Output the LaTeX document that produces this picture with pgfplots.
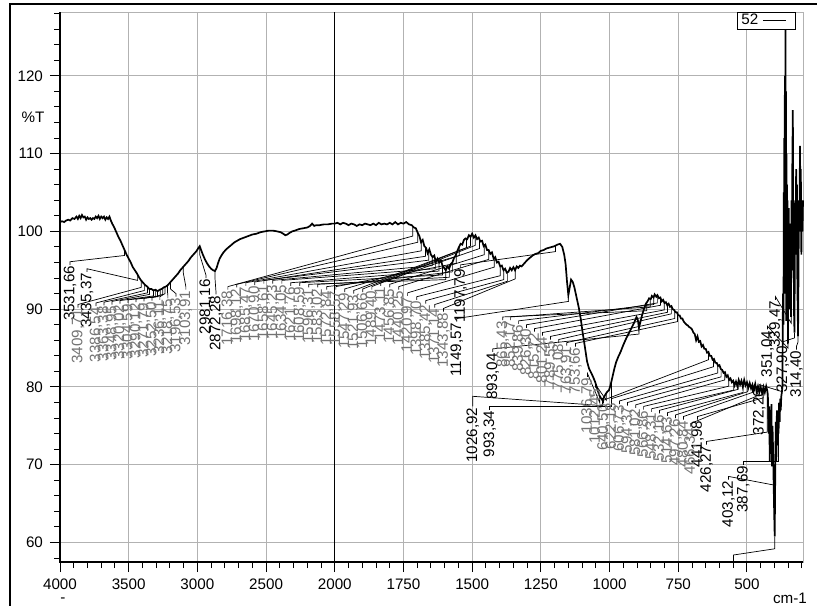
\documentclass[border=0pt]{standalone}
\usepackage{fontspec}
\setmainfont{Liberation Sans}
\usepackage{pgfplots}
\pgfplotsset{compat=1.18}
% leader + rotated peak label: lx, top, L, pk, L2, pT, text
\newcommand\pkl[7]{%
  \draw[line width=0.35pt] (axis cs:#1,#2) -- (axis cs:#1,#3) -- (axis cs:#4,#5) -- (axis cs:#4,#6);
  \node[rotate=90,anchor=east,inner sep=0.4pt] at (axis cs:#1,#2) {#7};}
\newcommand\pkg[7]{%
  \draw[line width=0.35pt] (axis cs:#1,#2) -- (axis cs:#1,#3) -- (axis cs:#4,#5) -- (axis cs:#4,#6);
  \node[rotate=90,anchor=east,inner sep=0.4pt,text=black!55] at (axis cs:#1,#2) {#7};}
\begin{document}
\begin{tikzpicture}[font=\fontsize{7.6}{9}\selectfont]
\useasboundingbox (-30pt,-21.5pt) rectangle (378.5pt,281pt);
\draw[line width=1pt] (-25pt,-30pt) -- (-25pt,279pt) -- (390pt,279pt);
\begin{axis}[
  scale only axis, width=371.5pt, height=275pt,
  x coord trafo/.code={\pgfmathparse{(4000-#1+max(0,2000-#1))/500}},
  xmin=4000, xmax=296, ymin=57.5, ymax=128.2,
  xtick={4000,3500,3000,2500,2000,1750,1500,1250,1000,750,500},
  xticklabels={4000,3500,3000,2500,2000,1750,1500,1250,1000,750,500},
  minor xtick={3900,3800,...,2100,1950,1900,...,300},
  ytick={60,70,...,120},
  minor ytick={58,62,64,66,68,72,74,76,78,82,84,86,88,92,94,96,98,102,104,106,108,112,114,116,118,122,124,126,128},
  /pgf/number format/assume math mode=true,
  tick pos=left, tick align=outside,
  major tick length=5pt, minor tick length=3pt,
  tick style={black, line width=0.5pt},
  xmajorgrids, ymajorgrids,
  major grid style={gray!60, line width=0.5pt},
  axis line style={draw=gray!60, line width=0.5pt},
  clip=false,
  legend style={at={(0.9906,1)}, anchor=north east, draw=black, line width=0.5pt,
    inner sep=0pt, nodes={inner xsep=2pt, inner ysep=0.8pt}, font=\fontsize{7.6}{8}\selectfont},
  legend plot pos=right,
  legend image code/.code={\draw[line width=0.5pt] (0.1cm,0cm) -- (0.5cm,0cm); \path (0.66cm,0cm);},
]
\draw[black, line width=0.5pt] (axis cs:2000,57.5) -- (axis cs:2000,128.2);
\addplot[black, line width=0.85pt] table {
4000 101.2
3985 101.3
3970 101.2
3955 101.4
3940 101.5
3925 101.4
3910 101.7
3895 101.6
3880 101.9
3870 101.6
3860 102.0
3850 101.7
3840 102.1
3830 101.8
3820 101.9
3810 101.5
3800 101.8
3790 101.6
3780 101.7
3770 101.5
3760 101.7
3750 101.6
3740 101.9
3730 101.7
3720 102.0
3710 101.6
3700 101.9
3690 101.7
3680 101.9
3670 101.5
3660 101.8
3650 101.6
3640 101.9
3630 101.4
3620 101.0
3605 100.5
3590 99.9
3575 99.3
3560 98.8
3545 98.2
3530 97.6
3515 97.0
3500 96.5
3485 96.0
3470 95.4
3455 95.0
3440 94.6
3425 94.1
3410 93.7
3395 93.4
3380 93.1
3365 92.9
3350 92.6
3335 92.6
3320 92.4
3305 92.5
3290 92.3
3275 92.5
3260 92.6
3245 92.8
3230 92.9
3215 93.1
3200 93.4
3185 93.7
3170 94.0
3155 94.3
3140 94.6
3125 95.0
3110 95.3
3095 95.6
3080 95.9
3065 96.2
3050 96.6
3035 96.9
3020 97.2
3005 97.5
2995 97.8
2983 98.1
2975 97.7
2960 97.0
2945 96.4
2930 95.9
2915 95.5
2900 95.2
2885 95.0
2872 94.9
2860 95.3
2850 95.9
2838 96.5
2825 96.9
2810 97.3
2790 97.7
2770 98.0
2750 98.3
2730 98.6
2710 98.8
2690 99.0
2660 99.2
2630 99.4
2600 99.6
2570 99.7
2540 99.9
2510 100.0
2480 100.1
2450 100.1
2420 100.0
2395 99.9
2375 99.7
2360 99.5
2345 99.6
2330 99.8
2310 100.0
2290 100.1
2260 100.3
2230 100.4
2200 100.5
2180 100.7
2165 101.0
2150 100.7
2135 100.8
2110 100.8
2080 100.9
2050 100.9
2020 101.0
2000 101.0
1990 101.1
1980 100.9
1970 101.1
1960 101.0
1950 100.8
1940 101.0
1930 100.9
1920 100.7
1910 100.9
1900 100.8
1890 101.0
1880 100.9
1870 100.8
1860 101.0
1850 100.8
1840 101.1
1830 100.9
1820 101.0
1810 100.9
1800 101.1
1790 100.9
1780 101.2
1770 100.9
1760 101.1
1750 101.0
1740 101.2
1730 100.9
1720 100.8
1712 100.5
1705 100.4
1698 99.8
1692 99.4
1686 98.6
1680 98.9
1674 98.1
1668 97.9
1662 97.2
1656 97.7
1650 97.0
1644 96.7
1638 96.9
1632 96.1
1626 96.5
1620 96.0
1614 96.3
1608 95.6
1602 95.3
1596 95.0
1590 95.5
1584 95.2
1578 95.8
1572 96.0
1566 96.6
1560 96.9
1554 97.5
1548 98.0
1542 98.4
1536 98.3
1530 98.9
1524 99.1
1518 99.0
1512 99.5
1506 99.3
1500 99.7
1494 99.2
1488 99.5
1482 99.0
1476 99.2
1470 98.7
1464 98.8
1458 98.1
1452 98.3
1446 97.6
1440 97.6
1434 97.1
1428 97.3
1422 96.5
1416 96.7
1410 96.0
1404 96.1
1398 95.5
1392 95.6
1386 95.0
1380 95.2
1374 94.7
1368 94.8
1362 95.3
1356 95.0
1350 95.4
1344 95.0
1338 95.5
1332 95.3
1326 95.6
1320 95.5
1310 95.9
1300 96.3
1290 96.6
1280 96.9
1270 97.1
1260 97.2
1250 97.5
1240 97.6
1230 97.8
1220 97.9
1210 98.0
1200 98.1
1190 98.3
1180 98.4
1172 98.0
1165 97.0
1160 95.8
1155 93.6
1150 91.8
1146 92.6
1140 93.8
1134 93.5
1128 92.8
1120 91.5
1112 90.2
1105 88.8
1098 87.0
1090 85.2
1082 83.3
1075 82.4
1068 81.9
1060 81.3
1052 80.6
1045 79.8
1038 79.0
1032 78.6
1026 78.3
1020 78.7
1014 79.1
1008 79.4
1002 79.6
996 80.3
990 81.2
983 82.3
976 83.2
968 83.9
960 84.5
950 85.4
940 86.2
930 86.9
920 87.6
910 88.3
902 89.0
897 88.6
893 87.6
888 88.3
882 89.2
875 90.0
868 90.7
862 91.0
856 91.4
850 91.3
846 91.7
840 91.5
836 91.9
830 91.6
826 91.8
820 91.4
815 91.5
810 91.0
805 91.2
800 90.8
795 90.9
790 90.5
785 90.7
780 90.3
775 90.4
770 90.0
765 89.9
760 89.6
755 89.6
750 89.2
745 89.2
740 88.8
735 88.8
730 88.4
725 88.2
720 88.0
715 87.9
710 87.7
705 87.6
700 87.4
695 87.0
690 86.8
685 86.0
680 86.5
675 85.8
670 85.9
665 85.2
660 85.4
655 84.9
650 84.9
645 84.4
640 84.5
635 84.0
630 84.0
625 83.5
620 83.6
615 83.1
610 83.1
605 82.7
600 82.8
595 82.3
590 82.2
585 81.8
580 81.9
575 81.3
570 81.5
565 80.9
560 81.1
555 80.6
550 80.8
545 80.2
540 80.7
535 80.1
530 80.9
525 80.3
520 80.8
515 80.0
510 80.9
505 80.2
500 80.6
495 79.9
490 80.5
485 79.8
480 80.3
475 79.6
470 80.4
465 79.5
460 80.1
455 79.3
450 80.0
445 79.2
440 80.0
435 79.3
430 80.1
426 79.5
424 79.0
421 74.0
419 77.5
417 70.5
415 76.0
413 71.5
411 77.8
409 69.8
407 75.0
405 72.0
403 68.0
401 64.0
399 60.8
397 69.0
395 75.5
393 70.5
391 77.0
389 72.5
387 76.5
385 74.0
383 78.0
381 75.5
379 78.5
377 77.0
375 78.8
373 79.3
371 80.0
369 92.0
367 88.0
366 105.0
365 96.0
364 112.0
363 92.0
362 120.0
361 100.0
360 125.9
359 95.0
358 118.0
357 88.5
356 110.0
355 92.0
354 106.0
353 95.0
352 104.0
351 85.5
350 99.0
349 92.0
348 103.0
346 90.0
345 101.0
343 94.0
342 99.0
340 89.0
338 104.0
336 95.0
335 108.0
333 115.6
331 94.0
330 100.0
329 90.0
327 87.0
326 96.0
324 104.0
323 97.0
321 108.0
320 99.0
318 106.0
317 95.0
315 89.0
314 86.5
312 97.0
311 104.0
309 100.0
307 111.0
305 102.0
304 108.0
302 97.0
300 103.0
298 100.0
296 104.0
};
\addlegendentry{52}
% readable peak labels
\pkl{3927}{95.7}{96.1}{3531}{96.9}{97.7}{3531,66}
\pkl{3804}{94.8}{95.2}{3435}{93.7}{94.4}{3435,37}
\pkl{2938}{94.0}{94.4}{2983}{97.0}{98.1}{2981,16}
\pkl{2865}{91.9}{92.3}{2872}{94.0}{94.9}{2872,28}
\pkl{1542}{95.3}{95.7}{1197}{97.4}{98.2}{1197,79}
\pkl{1556}{88.4}{88.8}{1149}{91.0}{91.8}{1149,57}
\pkl{1425}{84.5}{84.9}{893}{86.8}{87.6}{893,04}
\pkl{1498}{77.5}{78.8}{1026}{77.6}{78.3}{1026,92}
\pkl{1436}{77.1}{77.5}{993}{77.5}{80.8}{993,34}
\pkl{680}{75.8}{76.2}{441}{78.6}{79.6}{441,98}
\pkl{647}{72.6}{73.0}{426}{74.2}{79.5}{426,27}
\pkl{567}{68.1}{68.5}{403}{67.4}{68.0}{403,12}
\pkl{513}{70.0}{70.4}{387}{70.4}{76.5}{387,69}
\pkl{455}{79.9}{80.3}{372}{79.4}{79.8}{372,26}
\pkl{425}{87.4}{87.8}{351}{85.0}{85.5}{351,04}
\pkl{396}{91.2}{91.6}{339}{88.2}{89.0}{339,47}
\pkl{370}{85.4}{85.8}{327}{86.3}{87.0}{327,90}
\pkl{320}{84.8}{85.2}{314}{85.8}{86.5}{314,40}
% dense, faint peak labels
\pkg{3869}{90.2}{90.6}{3409}{92.8}{93.6}{3409,71}
\pkg{3738}{90.4}{90.8}{3386}{92.4}{93.2}{3386,54}
\pkg{3680}{90.5}{90.9}{3363}{92.1}{92.9}{3363,38}
\pkg{3622}{90.6}{91.0}{3348}{91.9}{92.7}{3348,95}
\pkg{3564}{90.7}{91.1}{3320}{91.7}{92.5}{3320,02}
\pkg{3505}{90.8}{91.2}{3304}{91.6}{92.4}{3304,59}
\pkg{3447}{90.9}{91.3}{3290}{91.6}{92.4}{3290,12}
\pkg{3389}{91.0}{91.4}{3271}{91.7}{92.5}{3271,79}
\pkg{3331}{91.1}{91.5}{3252}{91.9}{92.7}{3252,50}
\pkg{3273}{91.2}{91.6}{3236}{92.0}{92.8}{3236,11}
\pkg{3215}{91.4}{91.8}{3218}{92.3}{93.1}{3218,75}
\pkg{3156}{91.6}{92.0}{3196}{92.6}{93.4}{3196,53}
\pkg{3084}{92.5}{92.9}{3103}{94.7}{95.5}{3103,91}
\pkg{2778}{92.5}{92.9}{1716}{99.4}{100.6}{1716,38}
\pkg{2713}{92.8}{93.2}{1698}{98.6}{99.8}{1698,12}
\pkg{2647}{93.0}{93.4}{1685}{97.5}{98.7}{1685,47}
\pkg{2582}{93.1}{93.5}{1670}{96.8}{98.0}{1670,90}
\pkg{2516}{93.3}{93.7}{1658}{96.3}{97.5}{1658,61}
\pkg{2451}{93.3}{93.7}{1645}{95.6}{96.8}{1645,23}
\pkg{2385}{93.3}{93.7}{1634}{95.2}{96.4}{1634,05}
\pkg{2320}{93.0}{93.4}{1621}{94.9}{96.1}{1621,76}
\pkg{2255}{93.0}{93.4}{1608}{94.4}{95.6}{1608,59}
\pkg{2189}{92.8}{93.2}{1596}{93.8}{95.0}{1596,31}
\pkg{2124}{92.8}{93.2}{1583}{94.1}{95.3}{1583,02}
\pkg{2058}{92.5}{92.9}{1572}{94.8}{96.0}{1572,84}
\pkg{1996}{92.5}{92.9}{1558}{95.9}{97.1}{1558,57}
\pkg{1964}{92.2}{92.6}{1547}{96.9}{98.1}{1547,29}
\pkg{1931}{92.0}{92.4}{1521}{97.9}{99.1}{1521,93}
\pkg{1898}{92.2}{92.6}{1506}{98.1}{99.3}{1506,66}
\pkg{1865}{92.5}{92.9}{1489}{98.2}{99.4}{1489,40}
\pkg{1833}{93.0}{93.4}{1473}{97.8}{99.0}{1473,11}
\pkg{1800}{92.8}{93.2}{1456}{97.0}{98.2}{1456,85}
\pkg{1767}{92.5}{92.9}{1440}{96.4}{97.6}{1440,25}
\pkg{1735}{91.7}{92.1}{1420}{95.4}{96.6}{1420,97}
\pkg{1702}{91.2}{91.6}{1398}{94.3}{95.5}{1398,70}
\pkg{1669}{90.7}{91.1}{1385}{93.8}{95.0}{1385,42}
\pkg{1636}{90.2}{90.6}{1371}{93.6}{94.8}{1371,14}
\pkg{1604}{89.7}{90.1}{1343}{93.9}{95.1}{1343,88}
\pkg{1389}{88.6}{89.0}{865}{89.8}{90.8}{865,43}
\pkg{1360}{88.6}{89.0}{852}{90.3}{91.3}{852,17}
\pkg{1331}{88.1}{88.5}{839}{90.6}{91.6}{839,86}
\pkg{1302}{87.6}{88.0}{826}{90.8}{91.8}{826,30}
\pkg{1273}{87.1}{87.5}{815}{90.5}{91.5}{815,72}
\pkg{1244}{86.6}{87.0}{801}{89.9}{90.9}{801,24}
\pkg{1215}{86.1}{86.5}{789}{89.6}{90.6}{789,55}
\pkg{1185}{85.7}{86.1}{775}{89.4}{90.4}{775,08}
\pkg{1156}{85.3}{85.7}{763}{88.8}{89.8}{763,91}
\pkg{1124}{85.2}{85.6}{753}{88.4}{89.4}{753,66}
\pkg{1080}{81.3}{81.7}{1036}{78.0}{78.9}{1036,79}
\pkg{1051}{79.9}{80.3}{1012}{78.3}{79.1}{1012,45}
\pkg{1022}{77.9}{78.3}{640}{83.5}{84.5}{640,50}
\pkg{993}{78.1}{78.5}{622}{82.6}{83.6}{622,18}
\pkg{964}{77.8}{78.2}{606}{81.8}{82.8}{606,73}
\pkg{935}{77.6}{78.0}{594}{81.3}{82.3}{594,37}
\pkg{905}{77.3}{77.7}{581}{80.9}{81.9}{581,02}
\pkg{876}{77.1}{77.5}{566}{80.1}{81.1}{566,86}
\pkg{847}{76.8}{77.2}{548}{79.6}{80.6}{548,31}
\pkg{818}{76.6}{77.0}{532}{79.7}{80.7}{532,16}
\pkg{789}{76.3}{76.7}{514}{79.3}{80.3}{514,63}
\pkg{760}{76.0}{76.4}{497}{79.4}{80.4}{497,26}
\pkg{731}{75.8}{76.2}{480}{79.3}{80.3}{480,84}
\pkg{705}{74.9}{75.3}{466}{78.8}{79.8}{466,34}
\draw[line width=0.35pt] (axis cs:549,57.6) -- (axis cs:549,58.4) -- (axis cs:399,59.2) -- (axis cs:399,60.8);
\draw[black, line width=0.8pt] (rel axis cs:0,1) -- (rel axis cs:0,0) -- (rel axis cs:1,0);
\end{axis}
\node at (-13.5pt,222.5pt) {\%T};
\node at (365pt,-18pt) {cm-1};
\node at (1.5pt,-19pt) {-};
\end{tikzpicture}
\end{document}
